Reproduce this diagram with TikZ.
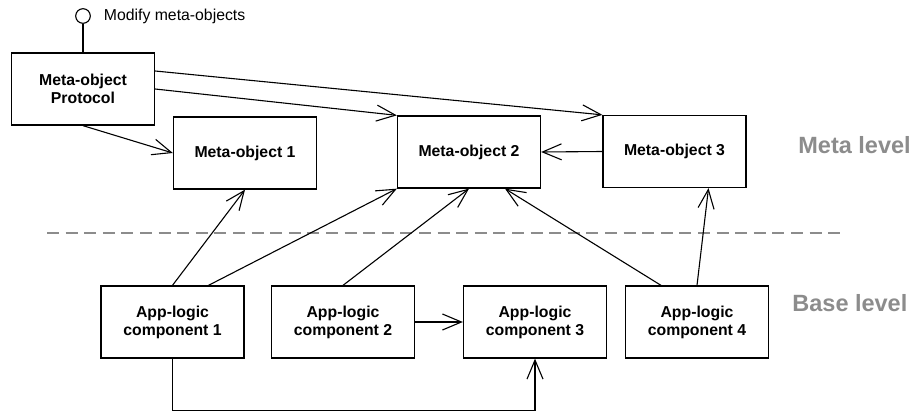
\documentclass[tikz,border=0pt]{standalone}
\usepackage{fontspec}
\setmainfont{Liberation Sans}
\usepackage{tikz}
\usetikzlibrary{arrows.meta,positioning}
\definecolor{levelgray}{RGB}{140,140,140}
\tikzset{
  comp/.style = {rectangle, draw=black, line width=0.65pt, align=center,
    minimum width=71.5pt, minimum height=36pt, inner sep=0pt,
    font=\fontsize{7.9}{9}\selectfont\bfseries},% component box
  lvl/.style = {anchor=base west, text=levelgray, inner sep=0pt,
    font=\fontsize{11.75}{14}\selectfont\bfseries},% level label
  link/.style = {-{Straight Barb[length=9.5pt,width=8pt,line width=0.55pt]}, line width=0.55pt}
}

\begin{document}
\begin{tikzpicture}[x=0.5pt,y=-0.5pt]
\useasboundingbox (0,0) rectangle (911,412);
% meta level
\node [comp] (mop) at (83,89) {Meta-object\\Protocol};
\node [comp] (mo1) at (245,153) {Meta-object 1};
\node [comp] (mo2) at (469,152) {Meta-object 2};
\node [comp] (mo3) at (674.5,151.5) {Meta-object 3};
% base level
\node [comp] (app1) at (172.5,322) {App-logic\\component 1};
\node [comp] (app2) at (343,322) {App-logic\\component 2};
\node [comp] (app3) at (535,322) {App-logic\\component 3};
\node [comp] (app4) at (697,322) {App-logic\\component 4};
% interface
\node [circle, draw, line width=0.55pt, minimum size=7.3pt, inner sep=0pt] (iface) at (83,16) {};
\node [right=3pt of iface, font=\fontsize{7.9}{9}\selectfont] (ilabel) {Modify meta-objects};
\draw [line width=0.55pt] (iface) -- (mop);
% levels
\draw [levelgray, line width=0.8pt, dash pattern=on 6pt off 3.3pt] (47,233) -- (842,233);
\node [lvl] (meta) at (798,153) {Meta level};
\node [lvl] (base) at (792,311) {Base level};
% connectors
\draw [link] (mop.south) -- (mo1.west);
\draw [link] (mop.east) -- (mo2.north west);
\draw [link] ([yshift=9pt]mop.east) -- (mo3.north west);
\draw [link] (mo3.west) -- (mo2.east);
\draw [link] (app1.north) -- (mo1.south);
\draw [link] ([xshift=18pt]app1.north) -- (mo2.south west);
\draw [link] (app2.north) -- (mo2.south);
\draw [link] ([xshift=-18pt]app4.north) -- ([xshift=18pt]mo2.south);
\draw [link] (app4.north) -- ([xshift=17pt]mo3.south);
\draw [link] (app2.east) -- (app3.west);
\coordinate (low) at (172.5,410.5);
\draw [link] (app1.south) -- (low) -| (app3.south);
\end{tikzpicture}
\end{document}
